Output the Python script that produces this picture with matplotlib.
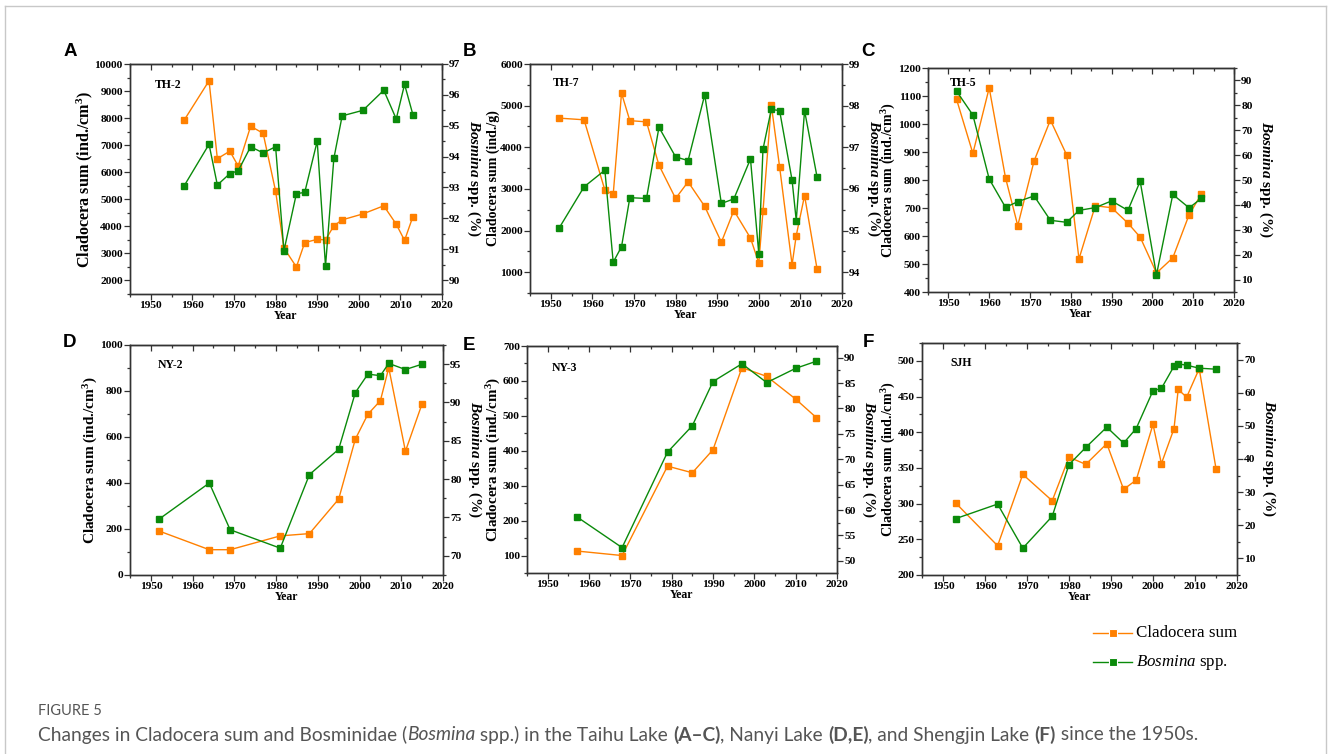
import matplotlib
matplotlib.use("Agg")
import matplotlib.pyplot as plt
from matplotlib.lines import Line2D
from matplotlib.ticker import MultipleLocator, AutoMinorLocator

plt.rcParams['font.family'] = ['Liberation Serif', 'DejaVu Serif']
plt.rcParams['mathtext.fontset'] = 'custom'
plt.rcParams['mathtext.rm'] = 'Liberation Serif:bold'
plt.rcParams['mathtext.bf'] = 'Liberation Serif:bold'
plt.rcParams['mathtext.it'] = 'Liberation Serif:italic'
plt.rcParams['mathtext.bfit'] = 'Liberation Serif:italic:bold'

ORANGE = '#ff8000'
GREEN = '#0a8a0a'

# TH-2 (Taihu)
years_a = [1958, 1964, 1966, 1969, 1971, 1974, 1977, 1980, 1982, 1985,
           1987, 1990, 1992, 1994, 1996, 2001, 2006, 2009, 2011, 2013]
sum_a = [7920, 9380, 6500, 6780, 6230, 7700, 7440, 5300, 3200, 2500,
         3400, 3520, 3500, 4020, 4240, 4460, 4760, 4080, 3480, 4360]
bos_a = [93.05, 94.40, 93.08, 93.45, 93.54, 94.32, 94.12, 94.32, 90.95, 92.80,
         92.84, 94.50, 90.45, 93.94, 95.32, 95.50, 96.15, 95.22, 96.34, 95.36]

# TH-7 (Taihu)
years_b = [1952, 1958, 1963, 1965, 1967, 1969, 1973, 1976, 1980, 1983, 1987,
           1991, 1994, 1998, 2000, 2001, 2003, 2005, 2008, 2009, 2011, 2014]
sum_b = [4700, 4660, 2970, 2870, 5300, 4640, 4610, 3570, 2770, 3170, 2580,
         1720, 2480, 1820, 1220, 2460, 5020, 3530, 1180, 1880, 2840, 1080]
bos_b = [95.06, 96.05, 96.45, 94.24, 94.61, 95.79, 95.77, 97.48, 96.77, 96.68, 98.26,
         95.65, 95.76, 96.72, 94.44, 96.95, 97.91, 97.88, 96.21, 95.24, 97.88, 96.29]

# TH-5 (Taihu)
years_c = [1952, 1956, 1960, 1964, 1967, 1971, 1975, 1979, 1982,
           1986, 1990, 1994, 1997, 2001, 2005, 2009, 2012]
sum_c = [1088, 895, 1129, 808, 637, 868, 1014, 889, 518,
         708, 701, 646, 596, 468, 522, 676, 750]
bos_c = [85.7, 76.1, 50.4, 39.0, 41.3, 43.6, 33.8, 33.0, 37.8,
         38.9, 41.6, 37.8, 49.5, 11.9, 44.2, 38.8, 42.6]

# NY-2 (Nanyi)
years_d = [1952, 1964, 1969, 1981, 1988, 1995, 1999, 2002, 2005, 2007, 2011, 2015]
sum_d = [191, 110, 110, 170, 180, 330, 591, 699, 758, 901, 538, 745]
bos_d = [74.8, 79.5, 73.4, 71.0, 80.6, 83.9, 91.3, 93.7, 93.5, 95.1, 94.3, 95.0]

# NY-3 (Nanyi)
years_e = [1957, 1968, 1979, 1985, 1990, 1997, 2003, 2010, 2015]
sum_e = [113, 100, 356, 337, 403, 638, 613, 548, 495]
bos_e = [58.7, 52.6, 71.4, 76.6, 85.3, 88.8, 85.1, 87.9, 89.3]

# SJH (Shengjin)
years_f = [1953, 1963, 1969, 1976, 1980, 1984, 1989, 1993,
           1996, 2000, 2002, 2005, 2006, 2008, 2011, 2015]
sum_f = [301, 241, 341, 304, 365, 355, 384, 320,
         333, 411, 356, 405, 460, 449, 489, 349]
bos_f = [22.0, 26.4, 13.1, 22.7, 38.3, 43.5, 49.6, 44.8,
         49.2, 60.6, 61.3, 68.0, 68.7, 68.3, 67.4, 67.1]

CM3 = 'Cladocera sum (ind./cm$^\\mathbf{3}$)'
BOS = '$\\mathbfit{Bosmina}$ spp. (%)'

# letter, station, years, sum, bos, left label, left lim, left step, right lim, right step,
# rect (px), station pos, left label size
panels = [
    ('A', 'TH-2', years_a, sum_a, bos_a, CM3, (1500, 10000), 1000, (89.55, 97), 1, (130, 64, 442, 294), (0.08, 0.91), 11.6),
    ('B', 'TH-7', years_b, sum_b, bos_b, 'Cladocera sum (ind./g)', (500, 6000), 1000, (93.5, 99), 1, (530, 64, 842, 293), (0.074, 0.917), 10.0),
    ('C', 'TH-5', years_c, sum_c, bos_c, CM3, (400, 1200), 100, (5, 95), 10, (928, 68, 1234, 292), (0.07, 0.935), 10.2),
    ('D', 'NY-2', years_d, sum_d, bos_d, CM3, (0, 1000), 200, (67.5, 97.5), 5, (130, 345, 443, 575), (0.09, 0.913), 11.0),
    ('E', 'NY-3', years_e, sum_e, bos_e, CM3, (50, 700), 100, (47.6, 92.3), 5, (527, 346, 837, 573), (0.08, 0.903), 10.8),
    ('F', 'SJH', years_f, sum_f, bos_f, CM3, (200, 525), 50, (5, 75), 10, (922, 343, 1237, 575), (0.089, 0.914), 10.2),
]
letter_pos = [(70, 52), (470, 52), (868, 52), (70, 343), (469, 345), (868, 343)]

W, H = 1328, 754
fig = plt.figure(figsize=(W / 100, H / 100), dpi=100)

def style_axis(ax):
    for sp in ax.spines.values():
        sp.set_color('#333333')
        sp.set_linewidth(1.0)
    ax.tick_params(which='both', labelsize=8.2, width=0.9, colors='#333333', labelcolor='black', pad=1.2)
    ax.tick_params(which='major', length=4)
    ax.tick_params(which='minor', length=2.5)
    for lab in ax.get_xticklabels() + ax.get_yticklabels():
        lab.set_fontweight('bold')

for (letter, station, yrs, s, b, ylab, ylim, ystep, rlim, rstep, rect, spos, lsize), lp in zip(panels, letter_pos):
    x0, y0, x1, y1 = rect
    ax = fig.add_axes([x0 / W, 1 - y1 / H, (x1 - x0) / W, (y1 - y0) / H])
    ax.plot(yrs, s, color=ORANGE, lw=1.0, marker='s', ms=4.2, mec=ORANGE, mfc=ORANGE)
    ax.set_xlim(1945, 2020)
    ax.set_ylim(*ylim)
    ax.xaxis.set_major_locator(MultipleLocator(10))
    ax.xaxis.set_minor_locator(MultipleLocator(5))
    ax.yaxis.set_major_locator(MultipleLocator(ystep))
    ax.yaxis.set_minor_locator(AutoMinorLocator(2))
    ax.set_ylabel(ylab, fontsize=lsize, fontweight='bold', labelpad=0)
    ax.set_xlabel('Year', fontsize=8.5, fontweight='bold', labelpad=0)
    ax.text(spos[0], spos[1], station, transform=ax.transAxes, fontsize=8.5,
            fontweight='bold', va='center')

    # top axis: ticks pointing inward, no labels
    top = ax.secondary_xaxis('top')
    top.xaxis.set_major_locator(MultipleLocator(10))
    top.xaxis.set_minor_locator(MultipleLocator(5))
    top.tick_params(which='both', direction='in', labeltop=False, colors='#333333', width=0.9)
    top.tick_params(which='major', length=4)
    top.tick_params(which='minor', length=2.5)

    ax2 = ax.twinx()
    ax2.plot(yrs, b, color=GREEN, lw=1.0, marker='s', ms=4.2, mec=GREEN, mfc=GREEN)
    ax2.set_ylim(*rlim)
    ax2.yaxis.set_major_locator(MultipleLocator(rstep))
    ax2.yaxis.set_minor_locator(AutoMinorLocator(2))
    ax2.set_ylabel(BOS, fontsize=11, fontweight='bold', rotation=270, va='bottom', labelpad=3)
    style_axis(ax)
    style_axis(ax2)

    fig.text(lp[0] / W, 1 - lp[1] / H, letter, family='Liberation Sans',
             fontsize=13.5, fontweight='bold', ha='center', va='center')

# legend drawn by hand, lower right
for col, yy in [(ORANGE, 633), (GREEN, 662)]:
    fig.add_artist(Line2D([1093 / W, 1132 / W], [1 - yy / H] * 2, color=col, lw=1.0))
    fig.add_artist(Line2D([1113 / W], [1 - yy / H], color=col, marker='s', ms=6, mfc=col, mec='white', mew=0.8))
fig.text(1136 / W, 1 - 633 / H, 'Cladocera sum', fontsize=12.2, va='center')
fig.text(1136 / W, 1 - 662 / H, '$\\mathit{Bosmina}$ spp.', fontsize=12.2, va='center')

# caption with mixed styles
def seg_text(x, y, parts, **kw):
    renderer = fig.canvas.get_renderer()
    for txt, style in parts:
        t = fig.text(x, y, txt, **kw, **style)
        x += t.get_window_extent(renderer).width / fig.bbox.width

CAP = dict(family='Lato', fontsize=13.75, color='#555555', va='center')
fig.text(38 / W, 1 - 711 / H, 'FIGURE 5', family='Lato', fontsize=10.5,
         color='#555555', va='center')
seg_text(38 / W, 1 - 735 / H, [
    ('Changes in Cladocera sum and Bosminidae (', {}),
    ('Bosmina', {'style': 'italic'}),
    (' spp.) in the Taihu Lake ', {}),
    ('(A\u2013C)', {'weight': 'bold'}),
    (', Nanyi Lake ', {}),
    ('(D,E)', {'weight': 'bold'}),
    (', and Shengjin Lake ', {}),
    ('(F)', {'weight': 'bold'}),
    (' since the 1950s.', {}),
], **CAP)

# light frame around figure
border = dict(color='#c8c8c8', lw=1.0)
fig.add_artist(Line2D([5 / W, 5 / W], [0, 1 - 6 / H], **border))
fig.add_artist(Line2D([5 / W, 1326 / W], [1 - 6 / H, 1 - 6 / H], **border))
fig.add_artist(Line2D([1326 / W, 1326 / W], [0, 1 - 6 / H], **border))

fig.savefig('out.png', dpi=100)
